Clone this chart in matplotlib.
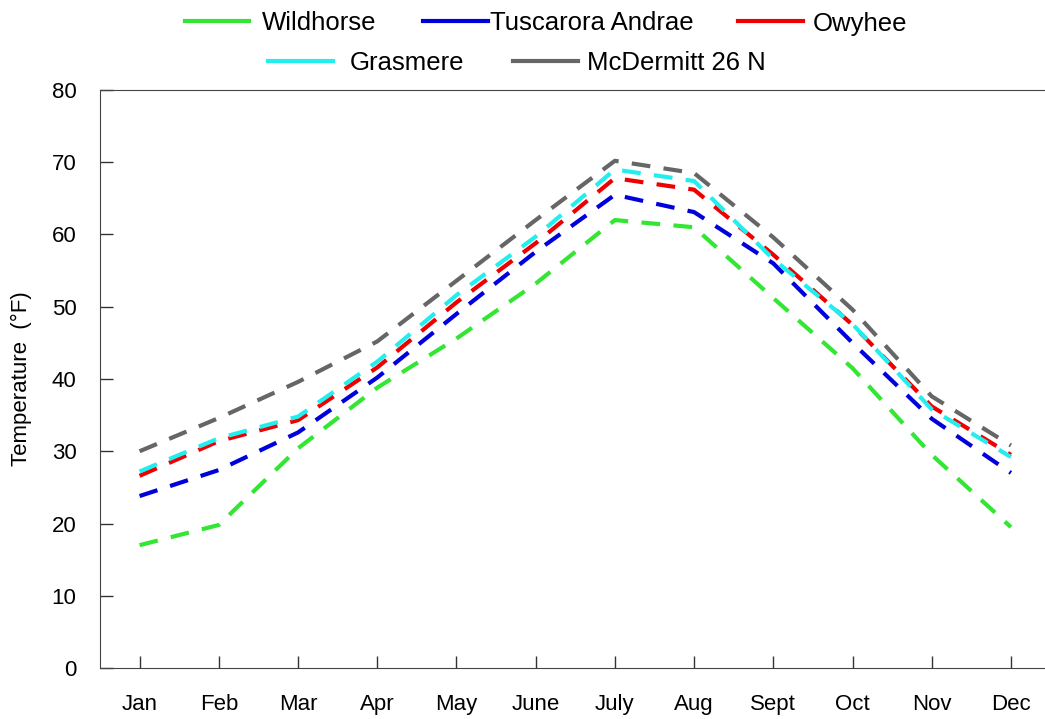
import matplotlib
matplotlib.use("Agg")
import matplotlib.pyplot as plt
from matplotlib.lines import Line2D

plt.rcParams["font.family"] = ["Liberation Sans", "DejaVu Sans"]

months = ["Jan", "Feb", "Mar", "Apr", "May", "June",
          "July", "Aug", "Sept", "Oct", "Nov", "Dec"]

wildhorse = [17.0, 19.8, 30.4, 38.8, 45.6, 53.2, 62.0, 61.0, 51.2, 41.5, 29.5, 19.5]
tuscarora = [23.8, 27.4, 32.6, 40.2, 49.0, 57.6, 65.5, 63.1, 56.0, 45.0, 34.5, 27.0]
owyhee = [26.6, 31.4, 34.3, 41.6, 50.6, 58.8, 67.8, 66.2, 57.2, 47.5, 36.2, 29.5]
grasmere = [27.2, 31.8, 34.8, 42.4, 51.6, 59.7, 69.0, 67.4, 56.6, 47.6, 35.8, 29.2]
mcdermitt = [30.0, 34.6, 39.6, 45.2, 53.6, 62.0, 70.2, 68.5, 59.6, 49.6, 37.6, 30.8]

names = ["Wildhorse", "Tuscarora Andrae", "Owyhee", "Grasmere", "McDermitt 26 N"]
series = [wildhorse, tuscarora, owyhee, grasmere, mcdermitt]
colors = ["#33e633", "#0000dd", "#ee0000", "#22eeee", "#666666"]

W, H = 1045, 719
fig = plt.figure(figsize=(W / 100, H / 100), dpi=100)
ax = fig.add_axes([100 / W, 51 / H, 945 / W, 578 / H])

x = list(range(len(months)))
for vals, col in zip(series, colors):
    ax.plot(x, vals, color=col, linewidth=3.0, dashes=(4.5, 3.2))

ax.set_xlim(-0.5, 11.43)
ax.set_ylim(0, 80)
ax.set_xticks(x)
ax.set_xticklabels(months)
ax.set_yticks(range(0, 81, 10))
ax.tick_params(direction="in", length=9, width=1, labelsize=16, colors="#333333",
               labelcolor="black")
ax.tick_params(axis="x", pad=19)
ax.tick_params(axis="y", pad=17)
for side in ["left", "bottom", "top"]:
    ax.spines[side].set_color("#444444")
ax.spines["right"].set_visible(False)
ax.set_ylabel("Temperature  (°F)", fontsize=16)
ax.yaxis.set_label_coords(-68 / 945, 0.5)

# legend laid out by hand: (handle start, handle end, text start) in pixels
rows_y = [21, 61]
layout = [
    (185, 249, 262, 0),
    (423, 488, 490, 0),
    (738, 803, 813, 0),
    (268, 333, 350, 1),
    (513, 578, 587, 1),
]
for (x0, x1, tx, row), name, col in zip(layout, names, colors):
    y = 1 - rows_y[row] / H
    fig.add_artist(Line2D([x0 / W, x1 / W], [y, y], color=col, linewidth=3.0,
                          transform=fig.transFigure))
    fig.text(tx / W, y, name, fontsize=18.5, ha="left", va="center_baseline")

fig.savefig("out.png", dpi=100)
